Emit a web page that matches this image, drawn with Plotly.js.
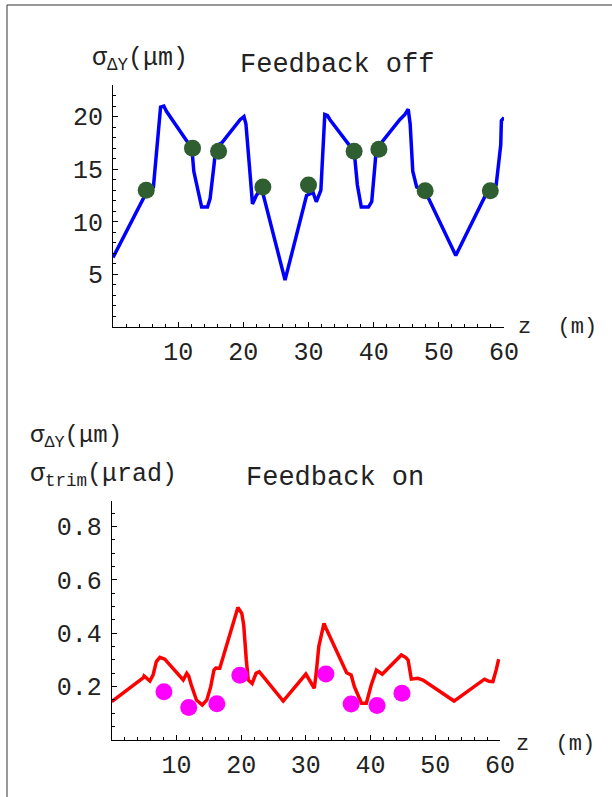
<!DOCTYPE html>
<html>
<head>
<meta charset="utf-8">
<script src="https://cdn.plot.ly/plotly-3.0.1.min.js"></script>
<style>html,body{margin:0;padding:0;background:#fff}#chart{width:612px;height:797px}</style>
</head>
<body>
<div id="chart"></div>
<script>
// Feedback off: sigma_DeltaY (um) along z (m)
var offZ = [0, 5.06, 6.2, 6.6, 6.9, 7.3, 7.8, 8.2, 11.3, 12.1, 12.4, 13.6, 14.5, 14.9, 15.5, 15.8, 16.7, 19.5, 20.1, 20.4, 21.0, 21.4, 22.0, 22.8, 26.4, 29.7, 30.7, 31.2, 31.9, 32.2, 32.5, 32.9, 33.3, 36.6, 37.1, 37.5, 38.1, 39.2, 39.7, 40.2, 40.4, 44.0, 44.8, 45.3, 45.6, 46.0, 46.6, 47.9, 52.6, 57.3, 58.8, 59.5, 59.6, 60.0];
var offSigma = [6.6, 12.7, 13.3, 16.4, 18.0, 20.9, 21.0, 20.5, 17.7, 17.0, 14.8, 11.4, 11.4, 12.2, 15.4, 17.2, 17.5, 19.7, 20.0, 19.3, 14.8, 11.7, 12.5, 13.2, 4.45, 12.5, 12.8, 11.9, 13.0, 17.0, 20.2, 20.1, 19.7, 17.0, 16.1, 13.5, 11.4, 11.4, 11.9, 15.4, 16.9, 19.7, 20.2, 20.7, 19.3, 14.8, 13.3, 12.9, 6.8, 12.7, 13.5, 17.3, 19.6, 19.9];
var offDotZ = [5.1, 12.2, 16.2, 23.0, 30.0, 37.0, 40.8, 47.9, 57.9];
var offDotSigma = [13.0, 17.0, 16.7, 13.3, 13.5, 16.7, 16.9, 12.95, 12.95];

// Feedback on: sigma_DeltaY (um) along z (m), and sigma_trim (urad) at correctors
var onZ = [0, 4.9, 5.0, 5.9, 6.4, 6.9, 7.45, 8.2, 11.05, 11.6, 11.9, 12.3, 13.1, 14.0, 14.7, 15.3, 15.8, 16.1, 16.7, 19.3, 19.5, 20.1, 20.4, 20.8, 21.1, 21.7, 22.3, 22.8, 26.5, 30.0, 30.6, 31.3, 31.6, 32.0, 32.8, 33.1, 36.3, 37.0, 37.5, 38.6, 39.35, 40.1, 40.9, 41.8, 44.75, 45.4, 45.8, 46.3, 47.3, 48.1, 52.9, 57.6, 58.3, 58.9, 59.4, 59.8];
var onSigma = [0.144, 0.234, 0.24, 0.221, 0.244, 0.294, 0.31, 0.303, 0.225, 0.25, 0.24, 0.206, 0.15, 0.131, 0.15, 0.2, 0.262, 0.27, 0.269, 0.475, 0.497, 0.475, 0.431, 0.3, 0.225, 0.212, 0.25, 0.256, 0.146, 0.247, 0.225, 0.194, 0.25, 0.35, 0.437, 0.42, 0.252, 0.244, 0.2, 0.138, 0.138, 0.206, 0.262, 0.247, 0.319, 0.31, 0.3, 0.228, 0.231, 0.225, 0.146, 0.228, 0.22, 0.219, 0.262, 0.303];
var trimZ = [8.07, 11.9, 16.25, 19.8, 33.1, 37.0, 41.0, 44.85];
var trimSigma = [0.181, 0.122, 0.136, 0.243, 0.247, 0.135, 0.129, 0.175];

var xTicks = [10, 20, 30, 40, 50, 60];
var yTicksOff = [5, 10, 15, 20];
var yTicksOn = [0.2, 0.4, 0.6, 0.8];
var yTicksOnText = ['0.2', '0.4', '0.6', '0.8'];

var W = 612, H = 797;
function px(x){ return x / W; }
function py(y){ return 1 - y / H; }

var mono = 'Liberation Mono, Courier New, monospace';
var tickFont = {family: mono, size: 25, color: '#222'};

var traces = [
  {x: offZ, y: offSigma, type: 'scatter', mode: 'lines', line: {color: '#0000ff', width: 3.5}, xaxis: 'x', yaxis: 'y', hoverinfo: 'skip'},
  {x: offDotZ, y: offDotSigma, type: 'scatter', mode: 'markers', marker: {color: '#2f5f30', size: 17}, xaxis: 'x', yaxis: 'y', cliponaxis: false},
  {x: onZ, y: onSigma, type: 'scatter', mode: 'lines', line: {color: '#ff0000', width: 3.5}, xaxis: 'x2', yaxis: 'y2', hoverinfo: 'skip'},
  {x: trimZ, y: trimSigma, type: 'scatter', mode: 'markers', marker: {color: '#ff00ff', size: 17}, xaxis: 'x2', yaxis: 'y2', cliponaxis: false}
];

function xAxis(domain, anchor){
  return {
    domain: domain, anchor: anchor, range: [0, 60], showgrid: false, zeroline: false,
    showline: true, linecolor: '#000', linewidth: 1,
    tickmode: 'array', tickvals: xTicks, ticktext: xTicks.map(String),
    ticks: 'inside', ticklen: 5, tickcolor: '#000', tickwidth: 1,
    tickfont: tickFont, ticklabelstandoff: 2,
    minor: {tickmode: 'linear', tick0: 0, dtick: 2, ticks: 'inside', ticklen: 3, tickcolor: '#000', tickwidth: 1, showgrid: false}
  };
}
function yAxis(domain, anchor, range, vals, texts, minorDt){
  return {
    domain: domain, anchor: anchor, range: range, showgrid: false, zeroline: false,
    showline: true, linecolor: '#000', linewidth: 1,
    tickmode: 'array', tickvals: vals, ticktext: texts,
    ticks: 'inside', ticklen: 5, tickcolor: '#000', tickwidth: 1,
    tickfont: tickFont, ticklabelstandoff: 4,
    minor: {tickmode: 'linear', tick0: 0, dtick: minorDt, ticks: 'inside', ticklen: 3, tickcolor: '#000', tickwidth: 1, showgrid: false}
  };
}

var ann = function(text, x, y, size){
  return {text: text, x: px(x), y: py(y), xref: 'paper', yref: 'paper', xanchor: 'left', yanchor: 'middle', showarrow: false, font: {family: mono, size: size, color: '#222'}};
};

var layout = {
  width: W, height: H, margin: {l: 0, r: 0, t: 0, b: 0},
  paper_bgcolor: '#fff', plot_bgcolor: '#fff', showlegend: false,
  xaxis: xAxis([px(113), px(504)], 'y'),
  yaxis: yAxis([py(327), py(85)], 'x', [0, 23], yTicksOff, yTicksOff.map(String), 1),
  xaxis2: xAxis([px(111.7), px(500)], 'y2'),
  yaxis2: yAxis([py(740), py(501)], 'x2', [0, 0.896], yTicksOn, yTicksOnText, 0.05),
  annotations: [
    ann('σ<sub>ΔY</sub>(μm)', 90, 60, 25),
    ann('Feedback off', 238, 65, 27),
    ann('z  (m)', 516, 327, 22),
    ann('σ<sub>ΔY</sub>(μm)', 28, 437, 24),
    ann('σ<sub>trim</sub>(μrad)', 28, 475, 25),
    ann('Feedback on', 244, 478, 27),
    ann('z  (m)', 514, 744, 22)
  ],
  shapes: [
    {type: 'line', xref: 'paper', yref: 'paper', x0: px(7), x1: px(7), y0: 0, y1: py(5), line: {color: '#333', width: 1}},
    {type: 'line', xref: 'paper', yref: 'paper', x0: px(7), x1: 1, y0: py(5), y1: py(5), line: {color: '#333', width: 1}}
  ]
};

Plotly.newPlot('chart', traces, layout, {staticPlot: true, displayModeBar: false});
</script>
</body>
</html>
